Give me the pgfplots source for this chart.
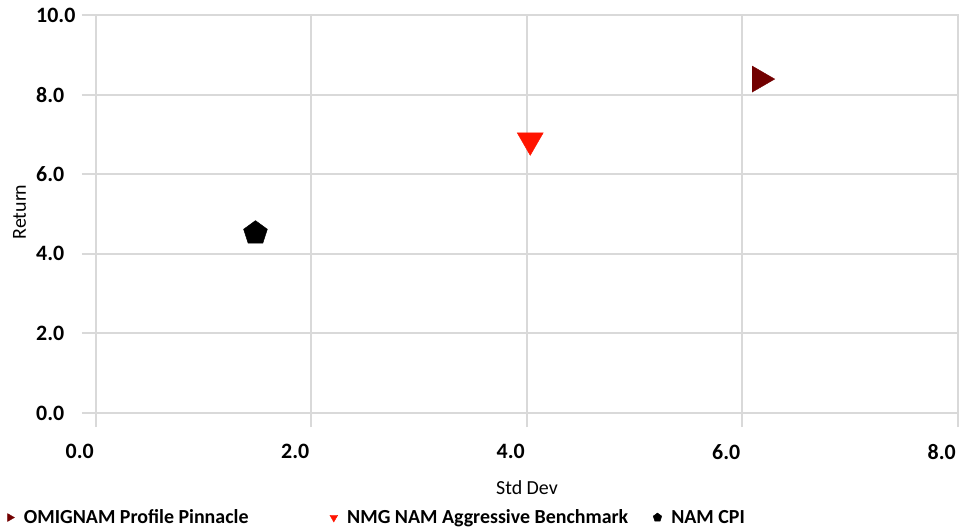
\documentclass[border=0pt]{standalone}
\usepackage{fontspec}
\setmainfont{Carlito}
\usepackage{pgfplots}
\pgfplotsset{compat=1.18}
\usetikzlibrary{plotmarks}

\definecolor{gridgray}{HTML}{D9D9D9}
\definecolor{maroon}{HTML}{720000}
\definecolor{brightred}{HTML}{FF1400}

\begin{document}
\begin{tikzpicture}
  \path[use as bounding box] (-96bp,-118bp) rectangle (867bp,413bp);
  \begin{axis}[
      at={(0,0)}, anchor=south west,
      scale only axis,
      width=862bp, height=398bp,
      xmin=0, xmax=8, ymin=0, ymax=10,
      xtick={0,2,4,6,8}, ytick={0,2,4,6,8,10},
      grid=major,
      grid style={gridgray, line width=2bp},
      axis line style={gridgray, line width=2bp},
      tick style={gridgray, line width=2bp},
      tick align=outside,
      major tick length=14bp,
      xtick pos=bottom, ytick pos=left,
      /pgf/number format/assume math mode=true,
      /pgf/number format/fixed,
      /pgf/number format/fixed zerofill,
      /pgf/number format/precision=1,
      ticklabel style={font=\bfseries\fontsize{22}{26}\selectfont, inner sep=0pt},
      xticklabel style={anchor=north east, xshift=-2bp, yshift=-17bp},
      yticklabel style={anchor=west, xshift=-46bp},
      xlabel={Std Dev},
      ylabel={Return},
      label style={font=\fontsize{20}{24}\selectfont},
      xlabel style={at={(axis description cs:0.5,-0.206)}, anchor=base},
      ylabel style={at={(axis description cs:-0.0812,0.505)}, anchor=base},
      legend columns=3,
      legend style={
        at={(axis description cs:-0.1027,-0.2626)}, anchor=west,
        draw=none, fill=none, inner sep=0pt,
        nodes={inner sep=0pt, font=\bfseries\fontsize{20}{24}\selectfont},
        /tikz/every odd column/.append style={column sep=9.5bp},
        /tikz/every even column/.append style={column sep=16bp},
      },
      legend image post style={mark size=4.5bp},
    ]
    \addplot[only marks, mark=triangle*, mark size=15bp, color=maroon,
      mark options={rotate=-90}] coordinates {(6.16,8.39)};
    \addlegendentry{\makebox[290bp][l]{OMIGNAM Profile Pinnacle}}
    \addplot[only marks, mark=triangle*, mark size=15bp, color=brightred,
      mark options={rotate=180}] coordinates {(4.03,6.85)};
    \addlegendentry{\makebox[290bp][l]{NMG NAM Aggressive Benchmark}}
    \addplot[only marks, mark=pentagon*, mark size=12.5bp, color=black]
      coordinates {(1.48,4.52)};
    \addlegendentry{NAM CPI}
  \end{axis}
\end{tikzpicture}
\end{document}
